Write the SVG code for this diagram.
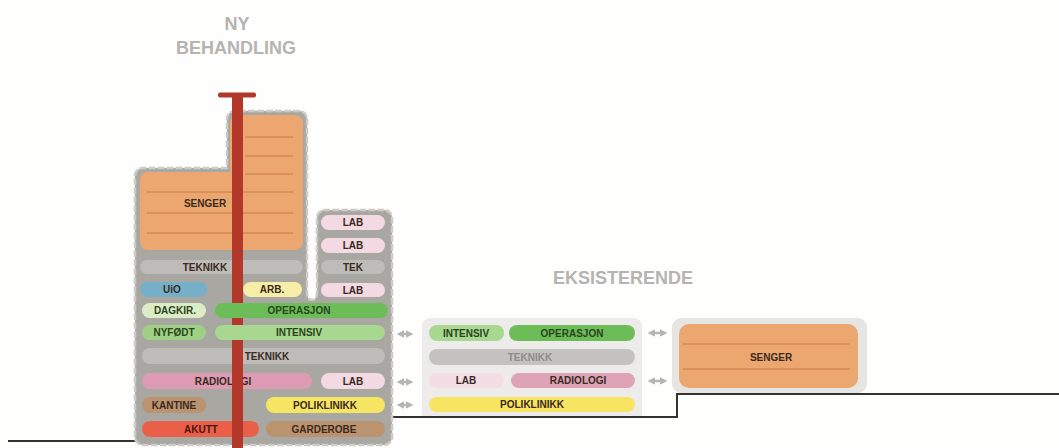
<svg xmlns="http://www.w3.org/2000/svg" width="1059" height="448" viewBox="0 0 1059 448">
<defs>
<style>
text{font-family:"Liberation Sans",Arial,sans-serif;font-weight:bold;text-anchor:middle}
.lbl{font-size:10px;fill:#3a2a20}
.grn{fill:#2a4420}
.lgt{fill:#8e8c88}
.red{fill:#4a1510}
.title{font-size:18px;fill:#b5b4b0}
.blk{fill:#a9a7a2;stroke:#cdcbc7;stroke-width:2.5;stroke-dasharray:7 2}
.or{fill:#eba76f}
.oline{stroke:#c97a3e;stroke-width:1.1}
.tek{fill:#bebcb8}
.lab{fill:#f3d9e2}
.gnd{fill:none;stroke:#333;stroke-width:2}
.conn{stroke:#b5b5b5;stroke-width:2.5;marker-start:url(#ah);marker-end:url(#ah)}
</style>
<marker id="ah" viewBox="0 0 10 10" refX="4" refY="5" markerWidth="3" markerHeight="3" orient="auto-start-reverse">
<path d="M0,0 L10,5 L0,10 Z" fill="#b5b5b5"/>
</marker>
</defs>
<rect width="1059" height="448" fill="#fefefd"/>

<g id="titles">
<text class="title" x="237" y="30">NY</text>
<text class="title" x="236" y="54">BEHANDLING</text>
<text class="title" x="623" y="284">EKSISTERENDE</text>
</g>

<g id="ground">
<path class="gnd" d="M8,441 H137"/>
<path class="gnd" d="M390,417 H677 V394 H1059"/>
</g>

<g id="ny-behandling">
<path class="blk" d="M135,176 a8,8 0 0 1 8,-8 H227 V119 a8,8 0 0 1 8,-8 H299 a8,8 0 0 1 8,8 V292 q0,8 5,8 q5,0 5,-8 V218 a8,8 0 0 1 8,-8 H384 a8,8 0 0 1 8,8 V437 a8,8 0 0 1 -8,8 H143 a8,8 0 0 1 -8,-8 Z"/>
<path class="or" d="M140,180 a8,8 0 0 1 8,-8 H230 V123 a8,8 0 0 1 8,-8 H295 a8,8 0 0 1 8,8 V242 a8,8 0 0 1 -8,8 H148 a8,8 0 0 1 -8,-8 Z"/>
<g class="oline">
<line x1="245" y1="137" x2="293" y2="137"/>
<line x1="245" y1="156" x2="293" y2="156"/>
<line x1="245" y1="174" x2="293" y2="174"/>
<line x1="147" y1="192" x2="293" y2="192"/>
<line x1="147" y1="213" x2="293" y2="213"/>
<line x1="147" y1="233" x2="293" y2="233"/>
</g>
<text class="lbl" x="205" y="206.6">SENGER</text>

<rect class="tek" x="140" y="260" width="163" height="14" rx="7"/>
<text class="lbl" x="205" y="270.6">TEKNIKK</text>
<rect x="140" y="282" width="67" height="15" rx="7.5" fill="#76b0c8"/>
<text class="lbl" x="172" y="293">UiO</text>
<rect x="243" y="282" width="59" height="15" rx="7.5" fill="#f6eea6"/>
<text class="lbl" x="272" y="293">ARB.</text>

<rect class="lab" x="321" y="215" width="64" height="15" rx="7.5"/>
<text class="lbl" x="353" y="226">LAB</text>
<rect class="lab" x="321" y="238" width="64" height="15" rx="7.5"/>
<text class="lbl" x="353" y="249">LAB</text>
<rect class="tek" x="321" y="260" width="64" height="14" rx="7"/>
<text class="lbl" x="353" y="270.6">TEK</text>
<rect class="lab" x="321" y="283" width="64" height="14" rx="7"/>
<text class="lbl" x="353" y="293.6">LAB</text>

<rect x="142" y="303" width="64" height="15" rx="7.5" fill="#dcecc6"/>
<text class="lbl grn" x="175" y="314">DAGKIR.</text>
<rect x="142" y="325" width="64" height="15" rx="7.5" fill="#9ed183"/>
<text class="lbl grn" x="174" y="336">NYFØDT</text>

<rect class="tek" x="142" y="348" width="243" height="16" rx="8"/>
<text class="lbl" x="267" y="359.6">TEKNIKK</text>
<rect x="142" y="373" width="170" height="16" rx="8" fill="#dd9bb3"/>
<text class="lbl" x="223" y="384.6">RADIOLOGI</text>
<rect class="lab" x="321" y="373" width="64" height="16" rx="8"/>
<text class="lbl" x="353" y="384.6">LAB</text>
<rect x="142" y="397" width="64" height="16" rx="8" fill="#bc936f"/>
<text class="lbl" x="174" y="408.6">KANTINE</text>
<rect x="266" y="397" width="119" height="16" rx="8" fill="#f6e463"/>
<text class="lbl" x="325" y="408.6">POLIKLINIKK</text>
<rect x="142" y="421" width="117" height="16" rx="8" fill="#ea5f48"/>
<text class="lbl red" x="201" y="432.6">AKUTT</text>
<rect x="266" y="421" width="119" height="16" rx="8" fill="#bc936f"/>
<text class="lbl" x="324" y="432.6">GARDEROBE</text>

<g id="core">
<rect x="218" y="92.5" width="38" height="5" rx="2" fill="#b3382a"/>
<rect x="232" y="95" width="11" height="353" fill="#b3382a"/>
</g>

<rect x="215" y="303" width="173" height="15" rx="7.5" fill="#6cbd58"/>
<text class="lbl grn" x="299" y="314">OPERASJON</text>
<rect x="215" y="325" width="170" height="15" rx="7.5" fill="#a8d78f"/>
<text class="lbl grn" x="299" y="336">INTENSIV</text>
</g>

<g id="eksisterende">
<path d="M422,326 a8,8 0 0 1 8,-8 H634 a8,8 0 0 1 8,8 V416 H422 Z" fill="#edecea"/>
<rect x="429" y="325" width="75" height="16" rx="8" fill="#a8d78f"/>
<text class="lbl grn" x="466" y="336.6">INTENSIV</text>
<rect x="509" y="325" width="126" height="16" rx="8" fill="#6cbd58"/>
<text class="lbl grn" x="572" y="336.6">OPERASJON</text>
<rect x="429" y="349" width="206" height="16" rx="8" fill="#c4c2be"/>
<text class="lbl lgt" x="530" y="360.6">TEKNIKK</text>
<rect x="429" y="373" width="75" height="15" rx="7.5" fill="#f5dde5"/>
<text class="lbl" x="466" y="384">LAB</text>
<rect x="511" y="373" width="124" height="15" rx="7.5" fill="#dea3b7"/>
<text class="lbl" x="578" y="384">RADIOLOGI</text>
<rect x="429" y="397" width="206" height="15" rx="7.5" fill="#f7e462"/>
<text class="lbl" x="532" y="408">POLIKLINIKK</text>
</g>

<g id="eksisterende-senger">
<rect x="672" y="318" width="195" height="75" rx="9" fill="#e6e5e2"/>
<rect x="679" y="324" width="179" height="64" rx="10" fill="#eba76f"/>
<line class="oline" x1="683" y1="344" x2="850" y2="344"/>
<line class="oline" x1="683" y1="369" x2="850" y2="369"/>
<text class="lbl" x="771" y="360.6">SENGER</text>
</g>

<g id="connectors">
<line class="conn" x1="401" y1="334" x2="409" y2="334"/>
<line class="conn" x1="401" y1="382" x2="409" y2="382"/>
<line class="conn" x1="401" y1="405" x2="409" y2="405"/>
<line class="conn" x1="652" y1="333" x2="663" y2="333"/>
<line class="conn" x1="652" y1="381" x2="663" y2="381"/>
</g>
</svg>
